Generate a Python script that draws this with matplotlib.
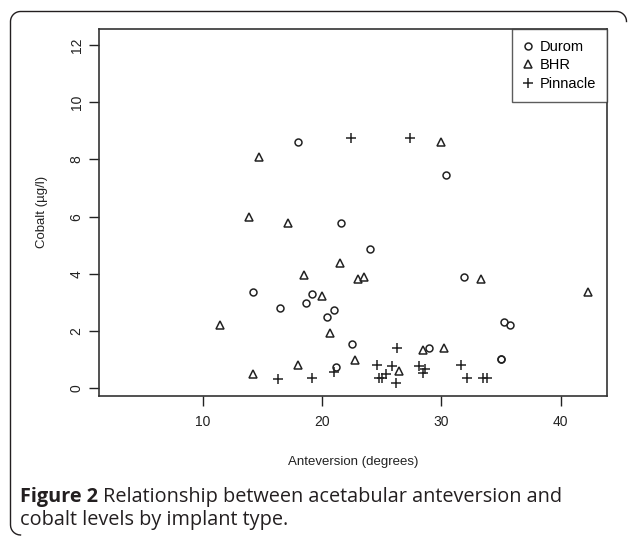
import matplotlib
matplotlib.use("Agg")
import matplotlib.pyplot as plt
import numpy as np
from matplotlib.lines import Line2D

# Cobalt level vs anteversion, one pair of lists per implant type
durom_x = [18.0, 30.4, 21.6, 24.0, 31.9, 14.2, 16.5, 18.7, 19.2, 20.4, 21.0, 22.5, 21.2, 29.0, 35.3, 35.8, 35.0, 35.0]
durom_y = [8.60, 7.46, 5.77, 4.88, 3.89, 3.37, 2.80, 2.98, 3.31, 2.49, 2.74, 1.54, 0.76, 1.41, 2.33, 2.21, 1.02, 1.04]

bhr_x = [14.7, 13.85, 17.15, 30.0, 21.5, 18.5, 23.0, 23.5, 20.0, 33.3, 42.3, 11.5, 20.7, 22.8, 28.5, 30.25, 26.5, 14.2, 18.0]
bhr_y = [8.07, 5.98, 5.79, 8.62, 4.39, 3.96, 3.81, 3.90, 3.23, 3.83, 3.38, 2.21, 1.92, 0.99, 1.34, 1.41, 0.62, 0.50, 0.83]

pin_x = [22.45, 27.4, 16.3, 19.2, 21.0, 26.3, 24.6, 25.9, 24.8, 25.0, 25.4, 26.2, 28.15, 28.65, 28.5, 31.7, 32.2, 33.5, 33.8]
pin_y = [8.74, 8.74, 0.31, 0.37, 0.58, 1.40, 0.81, 0.77, 0.35, 0.35, 0.49, 0.19, 0.79, 0.69, 0.55, 0.81, 0.35, 0.35, 0.35]

series_labels = ["Durom", "BHR", "Pinnacle"]
x_ticks = [10, 20, 30, 40]
y_ticks = [0, 2, 4, 6, 8, 10, 12]

W, H = 629, 536
fig = plt.figure(figsize=(W / 100, H / 100), dpi=100)
fig.patch.set_facecolor("white")

# rounded frame around the figure (top, top corners and left side only)
r = 10
left, top, right, bottom = 10.5, 11.5, 626.5, 535.0
pts_bl = [(left + r + r * np.cos(t), bottom - r - r * np.sin(t)) for t in np.linspace(np.pi * 1.5, np.pi, 8)]
pts_tl = [(left + r + r * np.cos(t), top + r - r * np.sin(t)) for t in np.linspace(np.pi, np.pi / 2, 12)]
pts_tr = [(right - r + r * np.cos(t), top + r - r * np.sin(t)) for t in np.linspace(np.pi / 2, 0, 12)]
pts = pts_bl + pts_tl + pts_tr
fx = [p[0] / W for p in pts]
fy = [1 - p[1] / H for p in pts]
fig.add_artist(Line2D(fx, fy, transform=fig.transFigure, color="#231f20", lw=1.0))

ax = fig.add_axes([99 / W, 1 - 395.7 / H, (606.7 - 99) / W, (395.7 - 29) / H])
ink = "#222222"
ax.plot(durom_x, durom_y, "o", ms=5, mfc="none", mec=ink, mew=1.1, ls="none", label=series_labels[0])
ax.plot(bhr_x, bhr_y, "^", ms=6, mfc="none", mec=ink, mew=1.1, ls="none", label=series_labels[1])
ax.plot(pin_x, pin_y, "+", ms=7, mec=ink, mew=1.1, ls="none", label=series_labels[2])

ax.set_xlim(1.32, 43.87)
ax.set_ylim(-0.26, 12.56)
ax.set_xticks(x_ticks)
ax.set_yticks(y_ticks)
ax.set_xticklabels([str(v) for v in x_ticks], fontsize=10, family="Liberation Sans", color=ink)
ax.set_yticklabels([str(v) for v in y_ticks], fontsize=10, family="Liberation Sans", color=ink,
                   rotation=90, va="center")
ax.tick_params(direction="out", length=7, width=1.0, color=ink)
ax.tick_params(axis="x", pad=7)
ax.tick_params(axis="y", pad=4)
for s in ax.spines.values():
    s.set_color("#333333")
    s.set_linewidth(1.2)

ax.set_xlabel("Anteversion (degrees)", fontsize=9.5, family="Liberation Sans", color=ink, labelpad=19)
ax.set_ylabel("Cobalt (µg/l)", fontsize=9.5, family="Liberation Sans", color=ink, labelpad=16)

leg = ax.legend(loc="upper right", prop={"family": "Liberation Sans", "size": 10.5},
                frameon=True, fancybox=False, borderaxespad=0, handlelength=0.7, handletextpad=0.4,
                labelspacing=0.3, borderpad=0.75)
leg.get_frame().set_edgecolor("#333333")
leg.get_frame().set_linewidth(1.0)

# caption: bold figure number, then the rest on the same line
cap_font = "Open Sans"
cap_col = "#231f20"
cap_size = 14.3
y1 = 1 - 502 / H
y2 = 1 - 525 / H
t1 = fig.text(20 / W, y1, "Figure 2", fontsize=cap_size, fontweight="bold", family=cap_font,
              color=cap_col, va="baseline")
renderer = fig.canvas.get_renderer()
bb = t1.get_window_extent(renderer)
fig.text((bb.x1 + 5) / W, y1, "Relationship between acetabular anteversion and", fontsize=cap_size,
         family=cap_font, color=cap_col, va="baseline")
fig.text(20 / W, y2, "cobalt levels by implant type.", fontsize=cap_size,
         family=cap_font, color=cap_col, va="baseline")

fig.savefig("out.png", dpi=100)
